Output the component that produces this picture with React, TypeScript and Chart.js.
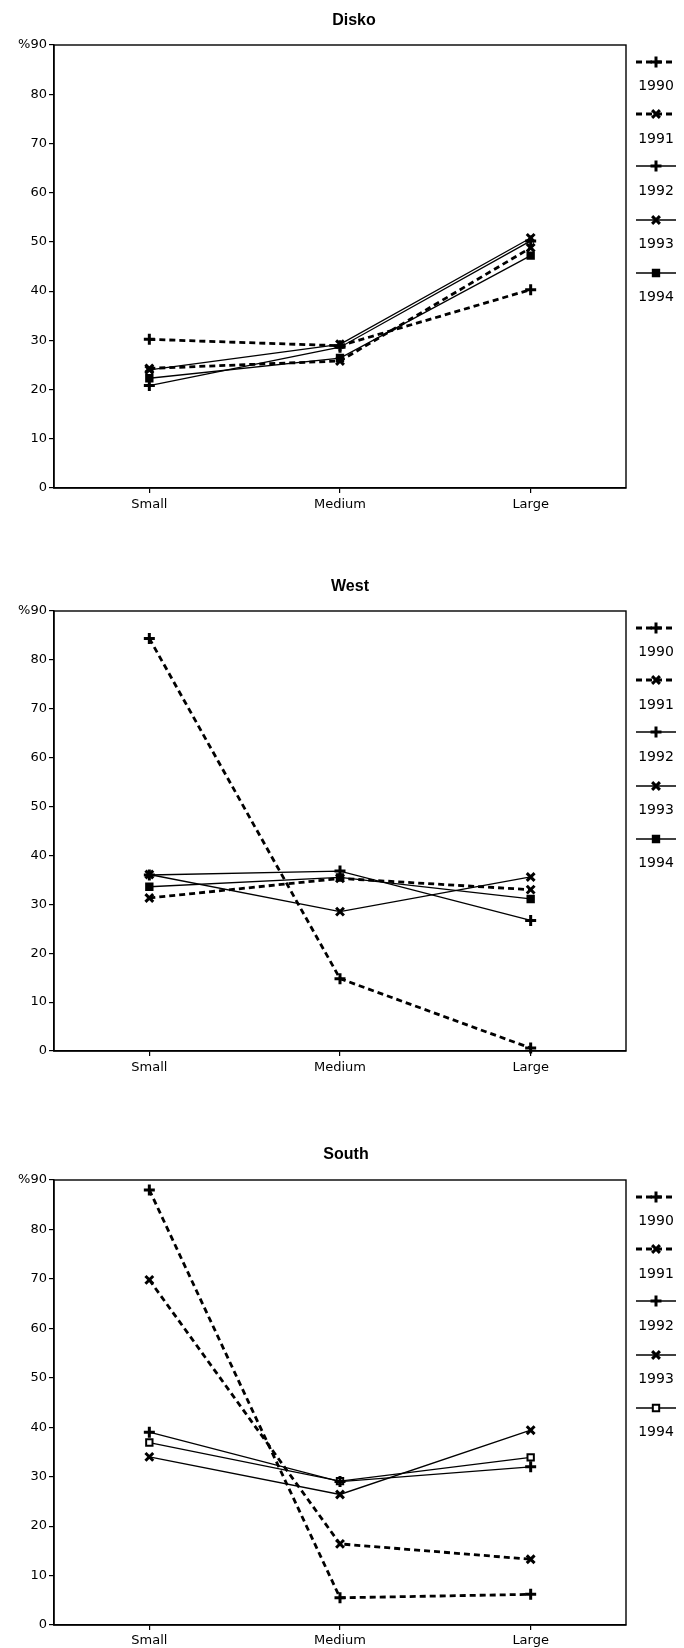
import React, { useEffect, useRef } from 'react';
import { Chart, registerables } from 'chart.js';
import { drawPoint } from 'chart.js/helpers';

Chart.register(...registerables);

// ---------- data ----------
const categories = ['Small', 'Medium', 'Large'];
const years = ['1990', '1991', '1992', '1993', '1994'];
const yMin = 0;
const yMax = 90;
const yStep = 10;
const topTickLabel = '%90';

// one row per year (1990..1994), one value per size class
const diskoValues = [
  [30.2, 28.9, 40.3],
  [24.3, 25.8, 48.8],
  [20.8, 28.6, 50.2],
  [24.0, 29.2, 50.8],
  [22.3, 26.4, 47.2],
];
const westValues = [
  [84.4, 14.8, 0.6],
  [31.3, 35.3, 33.0],
  [36.0, 36.8, 26.7],
  [36.1, 28.5, 35.6],
  [33.6, 35.5, 31.1],
];
const southValues = [
  [88.0, 5.5, 6.2],
  [69.8, 16.4, 13.3],
  [39.0, 29.0, 32.0],
  [34.0, 26.4, 39.4],
  [36.9, 29.1, 33.9],
];

// ---------- styles ----------
const FONT = "'DejaVu Sans', 'Liberation Sans', sans-serif";
const TITLE_FONT = "bold 16px 'Liberation Sans', Arial, sans-serif";
const dashedYears = [true, true, false, false, false];
const markerStyles = ['cross', 'crossRot', 'cross', 'crossRot', 'rect'];
const legendSymbolOffsets = [17, 69, 121, 175, 228];
const legendLabelOffsets = [41, 94, 146, 199, 252];

type PanelProps = {
  title: string;
  values: number[][];
  canvasTop: number;
  canvasHeight: number;
  plotTop: number;
  plotBottom: number;
  titleX: number;
  titleY: number;
  xLabelPad: number;
  hollowSquare: boolean;
};

const boxPlugin = {
  id: 'plotBox',
  beforeDatasetsDraw(chart: any) {
    const { ctx, chartArea: a } = chart;
    ctx.save();
    ctx.strokeStyle = '#000';
    ctx.lineWidth = 1.4;
    ctx.strokeRect(a.left, a.top, a.right - a.left, a.bottom - a.top);
    ctx.restore();
  },
};

const panelTitlePlugin = {
  id: 'panelTitle',
  afterDraw(chart: any, _args: any, opts: any) {
    const { ctx } = chart;
    ctx.save();
    ctx.fillStyle = '#000';
    ctx.font = TITLE_FONT;
    ctx.textAlign = 'center';
    ctx.textBaseline = 'middle';
    ctx.fillText(opts.text, opts.x, opts.y);
    ctx.restore();
  },
};

const sideLegendPlugin = {
  id: 'sideLegend',
  afterDraw(chart: any) {
    const { ctx, chartArea: a } = chart;
    const x0 = 636;
    const x1 = 676;
    const xm = (x0 + x1) / 2;
    chart.data.datasets.forEach((ds: any, i: number) => {
      const ys = a.top + legendSymbolOffsets[i];
      const yl = a.top + legendLabelOffsets[i];
      ctx.save();
      ctx.strokeStyle = '#000';
      ctx.lineWidth = ds.borderWidth;
      ctx.setLineDash(ds.borderDash || []);
      ctx.beginPath();
      ctx.moveTo(x0, ys);
      ctx.lineTo(x1, ys);
      ctx.stroke();
      ctx.setLineDash([]);
      ctx.fillStyle = ds.pointBackgroundColor;
      ctx.strokeStyle = '#000';
      ctx.lineWidth = ds.pointBorderWidth;
      drawPoint(ctx, { pointStyle: ds.pointStyle, radius: ds.pointRadius, rotation: 0, borderWidth: ds.pointBorderWidth } as any, xm, ys);
      ctx.fillStyle = '#000';
      ctx.font = `14px ${FONT}`;
      ctx.textAlign = 'center';
      ctx.textBaseline = 'middle';
      ctx.fillText(years[i], xm, yl);
      ctx.restore();
    });
  },
};

function Panel(p: PanelProps) {
  const ref = useRef<HTMLCanvasElement | null>(null);
  useEffect(() => {
    if (!ref.current) return;
    const datasets = p.values.map((vals, i) => ({
      label: years[i],
      data: vals,
      borderColor: '#000',
      backgroundColor: '#000',
      borderWidth: dashedYears[i] ? 2.8 : 1.3,
      borderDash: dashedYears[i] ? [6, 4] : [],
      pointStyle: markerStyles[i],
      pointRadius: markerStyles[i] === 'rect' ? 4.5 : 5.5,
      pointBorderWidth: markerStyles[i] === 'rect' ? 2 : 3,
      pointBorderColor: '#000',
      pointBackgroundColor: markerStyles[i] === 'rect' && p.hollowSquare ? '#fff' : '#000',
      tension: 0,
      clip: false as any,
    }));
    const chart = new Chart(ref.current, {
      type: 'line',
      data: { labels: categories, datasets },
      plugins: [boxPlugin, sideLegendPlugin, panelTitlePlugin],
      options: {
        responsive: false,
        animation: false,
        devicePixelRatio: 1,
        layout: { padding: { left: 0, right: 58, top: p.plotTop - p.canvasTop, bottom: 0 } },
        plugins: {
          legend: { display: false },
          tooltip: { enabled: false },
          title: { display: false },
          panelTitle: { text: p.title, x: p.titleX, y: p.titleY - p.canvasTop },
        },
        scales: {
          x: {
            type: 'category',
            offset: true,
            grid: { display: true, offset: false, drawOnChartArea: false, drawTicks: true, tickLength: 5, color: '#000', lineWidth: 1.2 },
            border: { display: true, color: '#000', width: 1.4 },
            ticks: { color: '#000', font: { family: FONT, size: 13 }, padding: p.xLabelPad, maxRotation: 0, autoSkip: false },
            afterFit: (s: any) => {
              s.height = p.canvasHeight - (p.plotBottom - p.canvasTop);
            },
          },
          y: {
            type: 'linear',
            min: yMin,
            max: yMax,
            grid: { display: true, drawOnChartArea: false, drawTicks: true, tickLength: 5, color: '#000', lineWidth: 1.2 },
            border: { display: true, color: '#000', width: 1.4 },
            ticks: {
              stepSize: yStep,
              color: '#000',
              font: { family: FONT, size: 13 },
              padding: 2,
              callback: (v: any) => (v === yMax ? topTickLabel : String(v)),
            },
            afterFit: (s: any) => {
              s.width = 54;
            },
          },
        },
      } as any,
    });
    return () => chart.destroy();
  }, []);
  return (
    <canvas
      ref={ref}
      width={684}
      height={p.canvasHeight}
      style={{ position: 'absolute', left: 0, top: p.canvasTop, width: 684, height: p.canvasHeight }}
    />
  );
}

export default function App() {
  return (
    <div style={{ position: 'absolute', left: 0, top: 0, width: 684, height: 1648, background: '#fff', overflow: 'hidden' }}>
      <Panel title="Disko" values={diskoValues} canvasTop={0} canvasHeight={520} plotTop={45} plotBottom={488} titleX={354} titleY={20.5} xLabelPad={4} hollowSquare={false} />
      <Panel title="West" values={westValues} canvasTop={555} canvasHeight={525} plotTop={611} plotBottom={1051} titleX={350} titleY={587} xLabelPad={4} hollowSquare={false} />
      <Panel title="South" values={southValues} canvasTop={1120} canvasHeight={528} plotTop={1180} plotBottom={1625} titleX={346} titleY={1154.5} xLabelPad={3} hollowSquare={true} />
    </div>
  );
}
